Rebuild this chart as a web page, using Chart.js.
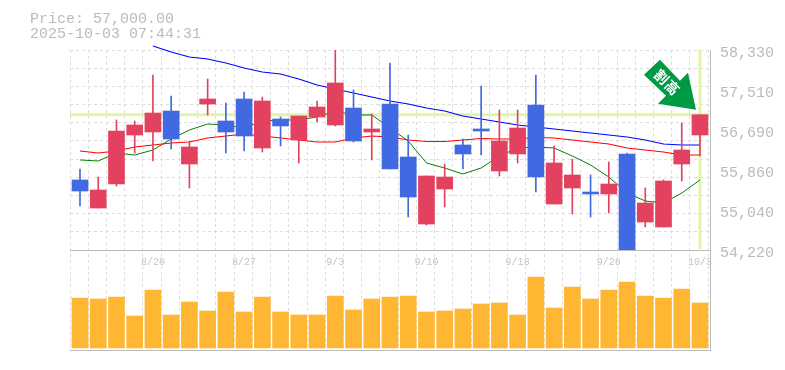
<!DOCTYPE html>
<html>
<head>
<meta charset="utf-8">
<style>
html, body { margin: 0; padding: 0; background: #fff; }
#wrap { width: 785px; height: 370px; position: relative; }
</style>
<script src="https://cdn.jsdelivr.net/npm/chart.js@4"></script>
</head>
<body>
<div id="wrap"><canvas id="myChart" width="785" height="370"></canvas></div>
<script>
// price header
const priceNow = 57000;
const stamp = "2025-10-03 07:44:31";

const dateLabels = ["8/20", "8/27", "9/3", "9/10", "9/18", "9/26", "10/3"];
const dateIndex = [4, 9, 14, 19, 24, 29, 34];
const priceTicks = [58330, 57510, 56690, 55860, 55040, 54220];

// candles, oldest first
const opens = [55659, 55083, 55576, 56583, 56645, 57076, 55987, 57220, 56871, 57323, 56316, 56912, 56481, 56953, 56789, 57138, 56645, 57220, 56131, 54754, 55474, 56378, 56707, 55843, 56193, 57200, 55165, 55494, 55412, 55371, 56193, 54795, 54693, 55987, 56583];
const closes = [55432, 55453, 56665, 56789, 57035, 56501, 56337, 57323, 56645, 56563, 57282, 56768, 56974, 57159, 57652, 56460, 56707, 55885, 55309, 55741, 55720, 56193, 56665, 56460, 56727, 55720, 56008, 55761, 55371, 55576, 54180, 55186, 55638, 56275, 57000];
const highs = [55885, 55720, 56892, 56871, 57816, 57385, 56460, 57734, 57241, 57467, 57364, 56953, 56974, 57282, 58330, 57508, 57015, 58063, 56583, 55741, 55987, 56501, 57590, 57097, 57097, 57816, 56357, 56090, 55761, 56028, 56213, 55494, 55659, 56830, 57000];
const lows = [55124, 55083, 55535, 56213, 56049, 56296, 55494, 56994, 56213, 56255, 56234, 56357, 56008, 56850, 56768, 56439, 56070, 55885, 54898, 54734, 55104, 55885, 56172, 55741, 56008, 55412, 55165, 54960, 54898, 54980, 54180, 54693, 54693, 55638, 56152];

// moving averages, null before the line starts
const maLong = [null, null, null, null, 58412, 58289, 58186, 58145, 58063, 57960, 57878, 57837, 57734, 57611, 57529, 57446, 57364, 57282, 57220, 57138, 57076, 56974, 56912, 56850, 56789, 56748, 56707, 56665, 56624, 56583, 56542, 56481, 56398, 56378, 56378];
const maMid = [56255, 56213, 56255, 56337, 56378, 56419, 56439, 56522, 56563, 56604, 56563, 56522, 56481, 56439, 56439, 56522, 56563, 56542, 56481, 56450, 56450, 56481, 56512, 56501, 56501, 56532, 56522, 56481, 56439, 56398, 56316, 56275, 56234, 56172, 56172];
const maShort = [56070, 56049, 56213, 56172, 56275, 56501, 56686, 56809, 56789, 56727, 56871, 56892, 56892, 56953, 57076, 56994, 56994, 56727, 56460, 56008, 55905, 55782, 55905, 56152, 56316, 56337, 56316, 56152, 55967, 55720, 55391, 55227, 55186, 55391, 55659];

// volume, relative height of each bar
const volumes = [50, 49, 51, 32, 58, 33, 46, 37, 56, 36, 51, 36, 33, 33, 52, 38, 49, 51, 52, 36, 37, 39, 44, 45, 33, 71, 40, 61, 49, 58, 66, 52, 50, 59, 45];

const RED = "#e24260";
const BLUE = "#4169e1";
const GREY = "#bbbbbb";
const GRID = "#dddddd";
const MARK = "#e2f4a8";
const MONO = "'Liberation Mono', monospace";

const indexes = opens.map((v, i) => i);
const candleColors = opens.map((v, i) => closes[i] >= v ? RED : BLUE);
const xMin = -0.548;
const xMax = 34.55;
const xGrid = [];
for (let i = 0; i <= 35; i++) xGrid.push(xMin + i);
const yStep = (priceTicks[0] - priceTicks[5]) / 11;
const yGrid = [priceTicks[5]];
for (let i = 1; i < 11; i++) yGrid.push(priceTicks[5] + yStep * i);
yGrid.push(priceTicks[0]);

const series = (arr) => arr.map((v, i) => ({ x: i, y: v }));
const lineSet = (data, color, width) => ({
    type: "line", data: series(data), yAxisID: "y", borderColor: color, borderWidth: width,
    pointRadius: 0, tension: 0, spanGaps: false, clip: false, order: 3
});

// header and the green signal arrow, hung on the last candle
const overlay = {
    id: "overlay",
    afterDraw(chart) {
        const ctx = chart.ctx;
        const tipX = chart.scales.x.getPixelForValue(34) - 4;
        const tipY = chart.scales.y.getPixelForValue(priceNow) - 5;
        ctx.save();
        ctx.fillStyle = "#fff";
        ctx.fillRect(713, 254, 6, 16);
        ctx.font = "15px " + MONO;
        ctx.fillStyle = GREY;
        ctx.textBaseline = "alphabetic";
        ctx.fillText("Price: " + priceNow.toLocaleString("en-US", { minimumFractionDigits: 2 }), 30, 23);
        ctx.fillText(stamp, 30, 38);
        ctx.translate(tipX, tipY);
        ctx.fillStyle = "#009944";
        ctx.beginPath();
        [[0, 0], [-38, -6], [-30, -14], [-52, -35], [-36, -50], [-16, -29], [-8, -37]].forEach((p, i) => {
            if (i === 0) ctx.moveTo(p[0], p[1]); else ctx.lineTo(p[0], p[1]);
        });
        ctx.closePath();
        ctx.fill();
        ctx.translate(-29, -27.5);
        ctx.rotate(Math.PI / 4);
        ctx.fillStyle = "#fff";
        ctx.font = "bold 14px 'Noto Sans CJK JP'";
        ctx.textAlign = "center";
        ctx.textBaseline = "middle";
        ctx.fillText("割", -7.5, 0);
        ctx.fillText("高", 7.5, 0);
        ctx.restore();
    }
};

new Chart(document.getElementById("myChart"), {
    data: {
        datasets: [
            { type: "bar", data: series(volumes), yAxisID: "yVol", backgroundColor: "#ffb733", barThickness: 16, grouped: false, order: 5 },
            { type: "line", data: [{ x: xMin, y: priceNow }, { x: xMax, y: priceNow }], yAxisID: "y", borderColor: MARK, borderWidth: 3, pointRadius: 0, order: 4 },
            { type: "line", data: [{ x: 34, y: priceTicks[0] }, { x: 34, y: priceTicks[5] + 20 }], yAxisID: "y", borderColor: MARK, borderWidth: 3, pointRadius: 0, order: 4 },
            lineSet(maLong, "#0000ff", 1.1),
            lineSet(maMid, "#ff0000", 1.1),
            lineSet(maShort, "#008000", 1),
            { type: "bar", data: indexes.map(i => ({ x: i, y: [lows[i], highs[i]] })), yAxisID: "y", backgroundColor: candleColors, barThickness: 1, grouped: false, order: 2 },
            { type: "bar", data: indexes.map(i => ({ x: i, y: [opens[i], closes[i]] })), yAxisID: "y", backgroundColor: candleColors, barThickness: 16, grouped: false, order: 1 }
        ]
    },
    options: {
        responsive: false,
        animation: false,
        layout: { padding: { left: 70, top: 50, bottom: 20, right: 0 } },
        plugins: { legend: { display: false }, tooltip: { enabled: false } },
        scales: {
            x: {
                type: "linear", position: "bottom", min: xMin, max: xMax, offset: false,
                afterBuildTicks: (s) => { s.ticks = xGrid.map(v => ({ value: v })); },
                afterFit: (s) => { s.height = 0; },
                ticks: { display: false },
                grid: { color: GRID, drawTicks: false, offset: false },
                border: { display: true, color: GREY, dash: [3, 3] }
            },
            xDates: {
                type: "linear", axis: "x", position: { y: priceTicks[5] }, min: xMin, max: xMax, offset: false,
                afterBuildTicks: (s) => { s.ticks = dateIndex.map(v => ({ value: v })); },
                ticks: {
                    autoSkip: false, maxRotation: 0, color: "#c4c4c4", padding: 6,
                    font: { family: MONO, size: 10 },
                    callback: (v) => dateLabels[dateIndex.indexOf(v)]
                },
                grid: { display: false, drawTicks: false },
                border: { display: true, color: GREY }
            },
            y: {
                position: "right", stack: "panes", stackWeight: 2,
                min: priceTicks[5], max: priceTicks[0],
                afterBuildTicks: (s) => { s.ticks = yGrid.concat(priceTicks.slice(1, 5)).map(v => ({ value: v })); },
                afterFit: (s) => { s.width = 75; },
                ticks: {
                    autoSkip: false, color: GREY, padding: 10, labelOffset: 3,
                    font: { family: MONO, size: 15 },
                    callback: (v) => priceTicks.includes(v) ? v.toLocaleString("en-US") : ""
                },
                grid: {
                    drawTicks: false,
                    color: (c) => priceTicks.slice(1, 5).includes(c.tick.value) ? "transparent" : GRID
                },
                border: { display: true, color: GREY, dash: [3, 3] }
            },
            yVol: {
                position: "right", stack: "panes", stackWeight: 1,
                min: -2, max: 98,
                afterFit: (s) => { s.width = 75; },
                ticks: { display: false },
                grid: { display: false, drawTicks: false },
                border: { display: true, color: GREY }
            }
        }
    },
    plugins: [overlay]
});
</script>
</body>
</html>
